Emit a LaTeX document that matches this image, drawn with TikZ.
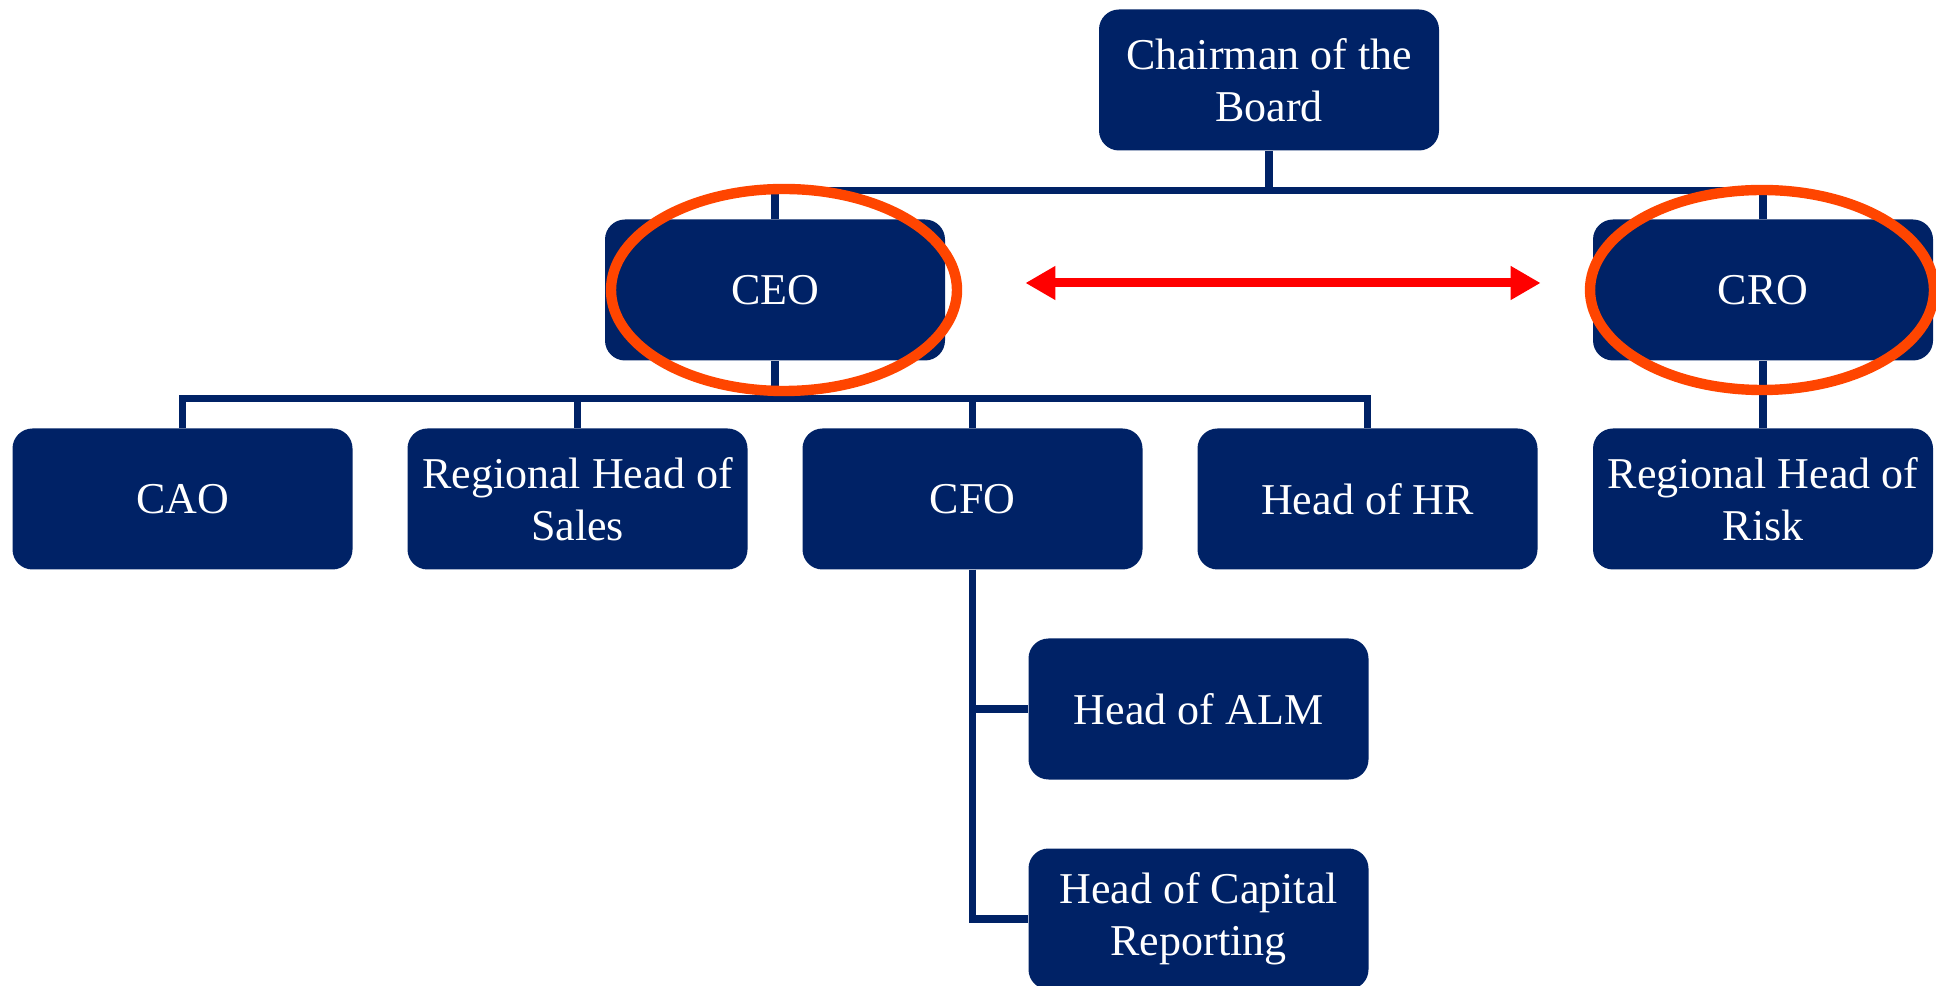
\documentclass[tikz,border=0pt]{standalone}
\usepackage{fontspec}
\setmainfont{Liberation Serif}
\usetikzlibrary{shapes, arrows.meta, calc, positioning}
\definecolor{boardnavy}{RGB}{0, 34, 102}
\definecolor{ringorange}{RGB}{255, 69, 0}

\begin{document}
\begin{tikzpicture}[x=10pt, y=10pt]%{{{
        \useasboundingbox (0, 0) rectangle (96.8, 49.25);

        \tikzstyle{b} = [fill=boardnavy, rounded corners=10pt, minimum width=170pt, minimum height=70.5pt,
                         text=white, align=center, inner sep=0pt, font=\fontsize{22}{26}\selectfont];
        \tikzstyle{l} = [draw=boardnavy, line width=3.6pt];
        \tikzstyle{o} = [draw=ringorange, line width=5.2pt];
        \tikzstyle{a} = [draw=red, line width=4.5pt, {Triangle[width=16pt, length=15pt]}-{Triangle[width=16pt, length=15pt]}];

        \node [b] (N) at (63.45, 45.25) {Chairman of the\\Board};

        \node [b] (N1) at ($(N) + (-24.7, -10.5)$) {CEO};
        \node [b] (N2) at ($(N) + ( 24.7, -10.5)$) {CRO};

        \foreach \nb/\txt in {1/CAO, 2/{Regional Head of\\Sales}, 3/CFO, 4/Head of HR}{
            \node [b] (N1\nb) at ($(N1) + ({-29.625 + 19.75*(\nb - 1)}, -10.45)$) {\txt};
        }
        \node [b] (N21) at ($(N2) + (0, -10.45)$) {Regional Head of\\Risk};

        \node [b] (N131) at ($(N13) + (11.3, -10.5)$) {Head of ALM};
        \node [b] (N132) at ($(N131) + (0, -10.5)$) {Head of Capital\\Reporting};

        % reporting lines
        \draw [l] (N.south) -- ++(0, -2) coordinate (B);
        \draw [l] (N1.north) |- (B) -| (N2.north);

        \draw [l] (N1.south) -- ++(0, -1.9) coordinate (B1);
        \foreach \nb in {1, ..., 4}{
            \draw [l] (B1) -| (N1\nb.north);
        }
        \draw [l] (N2) -- (N21);

        \draw [l] (N13.south) |- (N131.west);
        \draw [l] (N13.south) |- (N132.west);

        % highlights
        \draw [o] ($(N1) + (0.45, 0)$) ellipse [x radius=8.65, y radius=5.05];
        \draw [o] ($(N2) + (-0.05, 0)$) ellipse [x radius=8.6, y radius=5.0];

        \draw [a] ($(N1.east) + (0, 0.35)$) -- ($(N2.west) + (0, 0.35)$)
            [shorten <=40pt, shorten >=26pt];
    \end{tikzpicture}
\end{document}
